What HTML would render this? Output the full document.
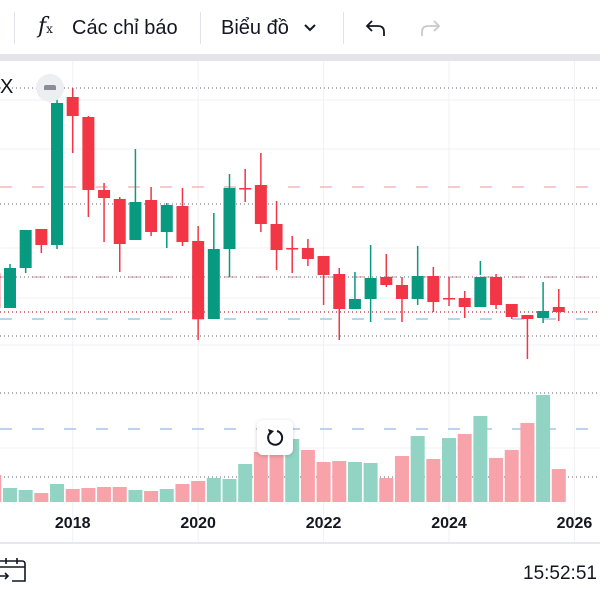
<!DOCTYPE html>
<html><head><meta charset="utf-8">
<style>
html,body{margin:0;padding:0;background:#fff;width:600px;height:600px;overflow:hidden;font-family:"Liberation Sans","DejaVu Sans",sans-serif;}
.tb{position:absolute;left:0;top:0;width:600px;height:54px;background:#fff;}
.sep{position:absolute;top:12px;width:1px;height:32px;background:#e0e3eb;}
.t{position:absolute;color:#131722;font-size:20px;top:17px;white-space:nowrap;}
</style></head><body>
<div class="tb">
  <div class="sep" style="left:14px"></div>
  <div class="t" style="left:38px;font-family:'DejaVu Serif',serif;font-style:italic;font-size:22px;top:14px">f<span style="font-size:12px;font-style:normal">x</span></div>
  <div class="t" style="left:72px">Các chỉ báo</div>
  <div class="sep" style="left:200px"></div>
  <div class="t" style="left:221px">Biểu đồ</div>
  <svg style="position:absolute;left:303px;top:23px" width="14" height="10"><path d="M2 2 L7 7 L12 2" fill="none" stroke="#131722" stroke-width="2"/></svg>
  <div class="sep" style="left:343px"></div>
  <svg style="position:absolute;left:364px;top:17px" width="24" height="22"><path d="M8 4 L3 9 L8 14 M3 9 H14 Q20 9 20 15 V19" fill="none" stroke="#131722" stroke-width="1.8"/></svg>
  <svg style="position:absolute;left:418px;top:17px" width="24" height="22"><path d="M16 4 L21 9 L16 14 M21 9 H10 Q4 9 4 15 V19" fill="none" stroke="#c8cad0" stroke-width="1.8"/></svg>
</div>
<div style="position:absolute;left:0;top:54px;width:600px;height:7px;background:#e3e5ea"></div>
<svg id="c" style="position:absolute;left:0;top:0" width="600" height="600"></svg>
<div style="position:absolute;left:0;top:76px;font-size:20px;color:#131722">X</div>
<div style="position:absolute;left:36px;top:74px;width:28px;height:28px;border-radius:50%;background:#eceef2"><div style="position:absolute;left:8px;top:11px;width:12px;height:5px;border-radius:2px 2px 0 0;background:#8a8d96"></div></div>
<div style="position:absolute;left:257px;top:420px;width:36px;height:35px;background:#fff;border-radius:6px;box-shadow:0 1px 4px rgba(0,0,0,0.18)">
 <svg width="36" height="35"><path d="M13 13 A7 7 0 1 0 20 11" fill="none" stroke="#131722" stroke-width="2"/><path d="M11 9 L17 11 L13 15 Z" fill="#131722"/></svg>
</div>
<div style="position:absolute;left:0;top:542px;width:600px;height:2px;background:#e6e8ec"></div>
<svg style="position:absolute;left:0;top:556px" width="26" height="28"><path d="M-2 5 H22 Q25 5 25 8 V25 H12 M-2 11 H25 M6 2 V8 M17 2 V8 M0 20 H8 M5 17 L8 20 L5 23" fill="none" stroke="#131722" stroke-width="1.6"/></svg>
<div style="position:absolute;left:523px;top:563px;font-size:19px;color:#131722">15:52:51</div>
<script>
// Quarterly data (price units, higher = up), starting one quarter before index 0
const opens  = [127, 92, 132, 171, 155, 303, 283, 210, 201, 160, 200, 168, 194, 159, 81, 151, 212, 215, 176, 152, 152, 144, 126, 91, 101, 123, 115, 101, 124, 102, 102, 93, 123, 96, 85, 82, 93];
const closes = [92, 132, 170, 155, 297, 284, 210, 202, 156, 198, 168, 195, 158, 81, 151, 212, 212, 176, 150, 152, 141, 125, 91, 101, 122, 115, 101, 124, 98, 102, 93, 123, 95, 83, 81, 89, 88];
const highs  = [130, 136, 170, 171, 307, 312, 284, 217, 203, 251, 213, 197, 212, 174, 187, 226, 231, 247, 199, 164, 161, 144, 132, 128, 155, 146, 123, 154, 133, 123, 109, 139, 126, 96, 85, 118, 111];
const lows   = [88, 92, 127, 147, 151, 247, 183, 158, 128, 160, 164, 152, 154, 60, 81, 123, 198, 168, 130, 127, 134, 95, 60, 91, 78, 113, 78, 95, 88, 94, 82, 125, 91, 81, 41, 77, 79];
const volumes= [27, 14, 12, 9, 18, 13, 14, 15, 15, 12, 11, 13, 18, 21, 24, 23, 38, 50, 52, 63, 52, 40, 41, 40, 39, 24, 46, 66, 43, 64, 68, 86, 44, 52, 79, 107, 33];
const yearLabels = ["2018","2020","2022","2024","2026"];
const yearIndex = [5, 13, 21, 29, 37];

const svg = document.getElementById('c');
const NS = 'http://www.w3.org/2000/svg';
const x0 = -5.7, step = 15.68;
function xs(i){ return x0 + step*i; }
function yp(p){ return 400 - p; }
function yv(v){ return 502 - v*1.0; }
function mk(tag, attrs){ const e=document.createElementNS(NS,tag); for(const k in attrs) e.setAttribute(k,attrs[k]); svg.appendChild(e); return e; }
// grid
[100,149,248,298,345,448].forEach(y=>{ const l=mk('line',{x1:0,x2:600,y1:y,y2:y,stroke:'#f0f1f4','stroke-width':1});

 });
yearIndex.forEach(i=>{ const l=mk('line',{x1:xs(i),x2:xs(i),y1:61,y2:542,stroke:'#f0f1f4','stroke-width':1});

 });
const levels=[[88,'#9598a1','1 3'],[204,'#9598a1','1 3'],[336,'#9598a1','1 3'],[393,'#9598a1','1 3'],[477,'#9598a1','1 3'],[187,'#f5b5b9','12 20'],[277,'#f5b5b9','12 20'],[277,'#9598a1','1 3'],[312,'#c0505a','1 3'],[319,'#a9c4eb','12 20'],[429,'#a9c4eb','12 20']];
levels.forEach(([y,c,d])=>{ const l=mk('line',{x1:0,x2:600,y1:y,y2:y,stroke:c,'stroke-width':1.5,'stroke-dasharray':d});

 });
// volume
volumes.forEach((v,i)=>{ const up=closes[i]>=opens[i]; const r=mk('rect',{x:xs(i)-7,y:yv(v),width:14,height:502-yv(v),fill:up?'#91d4c4':'#f8a3aa'});

 });
// candles
opens.forEach((o,i)=>{ const c=closes[i]; const up=c>o; const col=up?'#089981':'#f23645'; const x=xs(i);
const w=mk('line',{x1:x,x2:x,y1:yp(highs[i]),y2:yp(lows[i]),stroke:col,'stroke-width':1.5});


const top=yp(Math.max(o,c)), h=Math.max(1.5,Math.abs(o-c));
const b=mk('rect',{x:x-6,y:top,width:12,height:h,fill:col});

 });
// year labels
yearLabels.forEach((t,k)=>{ const e=mk('text',{x:xs(yearIndex[k]),y:528,'text-anchor':'middle','font-size':16,'font-weight':'bold',fill:'#131722','font-family':'Liberation Sans, sans-serif'}); e.textContent=t;

 });
</script>
</body></html>
